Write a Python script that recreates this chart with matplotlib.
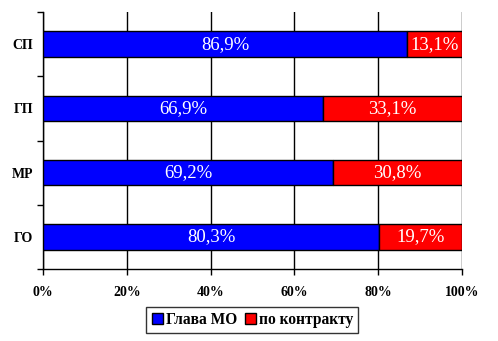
import matplotlib
matplotlib.use("Agg")
import matplotlib.pyplot as plt
import numpy as np

categories = ["ГО", "МР", "ГП", "СП"]
glava = [80.3, 69.2, 66.9, 86.9]
kontrakt = [19.7, 30.8, 33.1, 13.1]
series_names = ["Глава МО", "по контракту"]
xticks = [0, 20, 40, 60, 80, 100]

fig = plt.figure(figsize=(4.98, 3.41), dpi=100)
ax = fig.add_axes([0.0863, 0.2111, 0.8414, 0.7537])
serif = "Liberation Serif"

y = np.arange(len(categories))
b1 = ax.barh(y, glava, height=0.4, color="#0000FF", edgecolor="black", linewidth=1, zorder=3, label=series_names[0])
b2 = ax.barh(y, kontrakt, left=glava, height=0.4, color="#FF0000", edgecolor="black", linewidth=1, zorder=3, label=series_names[1])

for i in range(len(categories)):
    ax.text(glava[i] / 2, y[i], f"{glava[i]:.1f}%".replace(".", ","), ha="center", va="center",
            color="white", fontsize=13.5, family=serif, zorder=4)
    ax.text(glava[i] + kontrakt[i] / 2, y[i], f"{kontrakt[i]:.1f}%".replace(".", ","), ha="center", va="center",
            color="white", fontsize=13.5, family=serif, zorder=4)

ax.set_xlim(0, 100)
ax.set_ylim(-0.5, 3.5)
ax.set_xticks(xticks)
ax.set_xticklabels([f"{t}%" for t in xticks], fontsize=10, fontweight="bold", family=serif)
ax.set_yticks([-0.5, 0.5, 1.5, 2.5, 3.5])
ax.set_yticklabels([])
ax.set_yticks(y, minor=True)
ax.set_yticklabels(categories, minor=True, fontsize=10, fontweight="bold", family=serif)
ax.tick_params(axis="y", which="minor", length=0, pad=7)
ax.tick_params(axis="y", which="major", length=4, direction="out", width=1, color="black")
ax.tick_params(axis="x", length=4, direction="out", width=1, pad=8)
ax.xaxis.grid(True, color="black", linewidth=1, zorder=0)
ax.set_axisbelow(True)
for s in ["top", "right"]:
    ax.spines[s].set_visible(False)
for s in ["left", "bottom"]:
    ax.spines[s].set_color("black")
    ax.spines[s].set_linewidth(1)

leg = fig.legend(handles=[b1, b2], loc="center", bbox_to_anchor=(0.5066, 0.0616), ncol=2,
                 frameon=True, fancybox=False, edgecolor="black", handlelength=0.7, handleheight=0.7,
                 handletextpad=0.2, columnspacing=0.5, borderpad=0.35,
                 prop={"family": serif, "weight": "bold", "size": 11.2})
leg.get_frame().set_linewidth(1)

fig.savefig("out.png", dpi=100)
